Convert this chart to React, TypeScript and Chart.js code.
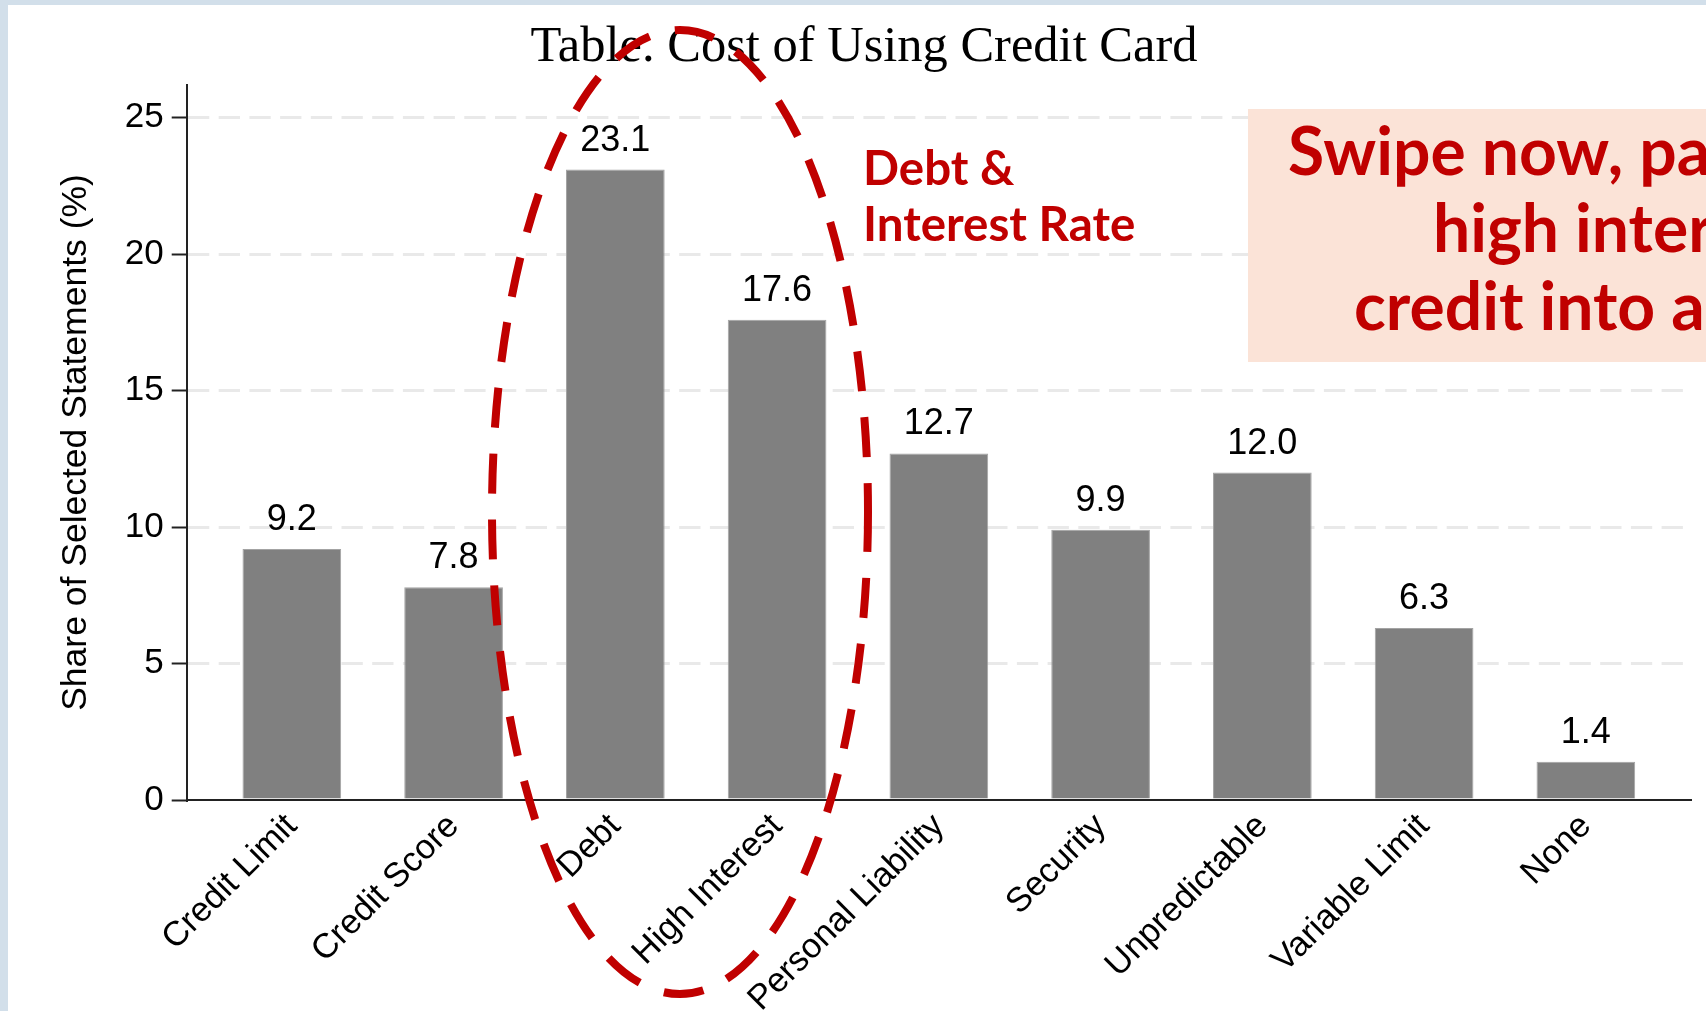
import React, { useEffect, useRef } from 'react';
import { Chart, registerables } from 'chart.js';

Chart.register(...registerables);

// ---- data ----
const categories = [
  'Credit Limit',
  'Credit Score',
  'Debt',
  'High Interest',
  'Personal Liability',
  'Security',
  'Unpredictable',
  'Variable Limit',
  'None',
];
const shares = [9.2, 7.8, 23.1, 17.6, 12.7, 9.9, 12.0, 6.3, 1.4];
const yTicks = [0, 5, 10, 15, 20, 25];
const titleText = 'Table. Cost of Using Credit Card';
const yAxisTitle = 'Share of Selected Statements (%)';
const calloutLines = ['Debt &', 'Interest Rate'];
const boxLines = ['Swipe now, pa', 'high inter', 'credit into a'];

const RED = '#c00000';
const W = 1698;
const H = 1006;

export default function App() {
  const ref = useRef<HTMLCanvasElement>(null);

  useEffect(() => {
    const canvas = ref.current;
    if (!canvas) return;
    Chart.defaults.font.family = "'Liberation Sans', Arial, sans-serif";

    const valueLabels = {
      id: 'valueLabels',
      afterDatasetsDraw(chart: any) {
        const ctx = chart.ctx;
        const meta = chart.getDatasetMeta(0);
        ctx.save();
        ctx.font = "36px 'Liberation Sans'";
        ctx.fillStyle = '#000';
        ctx.textAlign = 'center';
        ctx.textBaseline = 'alphabetic';
        meta.data.forEach((el: any, i: number) => {
          ctx.fillText(shares[i].toFixed(1), el.x, el.y - 19);
        });
        ctx.restore();
      },
    };

    const overlay = {
      id: 'overlay',
      afterDraw(chart: any) {
        const ctx = chart.ctx;
        ctx.save();
        // slide title
        ctx.font = "50.5px 'Liberation Serif'";
        ctx.fillStyle = '#000';
        ctx.textAlign = 'center';
        ctx.textBaseline = 'alphabetic';
        ctx.fillText(titleText, 856, 56);

        // pink callout box
        ctx.fillStyle = '#fbe3d7';
        ctx.fillRect(1240, 104, W - 1240, 253);
        ctx.fillStyle = RED;
        ctx.textAlign = 'left';
        ctx.font = "bold 66px Lato";
        ctx.fillText(boxLines[0], 1280, 170);
        ctx.fillText(boxLines[1], 1425, 247);
        ctx.fillText(boxLines[2], 1346, 325);

        // Debt & Interest Rate callout
        ctx.font = "bold 47.5px Lato";
        ctx.fillText(calloutLines[0], 855, 180);
        ctx.fillText(calloutLines[1], 855, 236);

        // dashed ellipse
        ctx.strokeStyle = RED;
        ctx.lineWidth = 8;
        ctx.setLineDash([40, 26]);
        ctx.beginPath();
        ctx.ellipse(672, 507, 188, 482, 0, 0, Math.PI * 2);
        ctx.stroke();
        ctx.restore();
      },
    };

    const chart = new Chart(canvas, {
      type: 'bar',
      data: {
        datasets: [
          {
            data: shares.map((v, i) => ({ x: i, y: v })),
            backgroundColor: '#808080',
            borderColor: '#a3a3a3',
            borderWidth: 1,
            barPercentage: 0.61,
            categoryPercentage: 1,
          },
        ],
      },
      options: {
        responsive: false,
        animation: false,
        layout: { padding: { top: 80, right: 15, left: 0, bottom: 0 } },
        plugins: {
          legend: { display: false },
          tooltip: { enabled: false },
          title: { display: false },
        },
        scales: {
          x: {
            type: 'linear',
            min: -0.65,
            max: 8.65,
            offset: false,
            grid: { display: false, drawTicks: false, offset: false },
            border: { display: true, color: '#222', width: 2 },
            afterBuildTicks: (s: any) => {
              s.ticks = categories.map((_, i) => ({ value: i }));
            },
            afterFit: (s: any) => {
              s.height = 211;
            },
            ticks: {
              autoSkip: false,
              maxRotation: 45,
              minRotation: 45,
              padding: 6,
              color: '#000',
              font: { size: 34.5 },
              callback: (v: any) => categories[v as number] ?? '',
            },
          },
          y: {
            min: 0,
            max: 26.2,
            afterBuildTicks: (s: any) => {
              s.ticks = yTicks.map((v) => ({ value: v }));
            },
            afterFit: (s: any) => {
              s.width = 178.7;
            },
            grid: {
              color: (c: any) => (c.tick && c.tick.value === 0 ? 'rgba(0,0,0,0)' : '#e9e9e9'),
              lineWidth: 3,
              tickColor: '#222',
              tickWidth: 2,
              tickLength: 15,
              tickBorderDash: [],
            },
            border: { display: true, color: '#222', width: 2, dash: [21.3, 9.4] },
            ticks: { color: '#000', font: { size: 35 }, padding: 8 },
            title: {
              display: true,
              text: yAxisTitle,
              color: '#000',
              font: { size: 35.5 },
              padding: { top: 47, bottom: 0 },
            },
          },
        },
      } as any,
      plugins: [valueLabels, overlay],
    });
    return () => chart.destroy();
  }, []);

  return (
    <div style={{ position: 'fixed', left: 0, top: 0, width: 1706, height: 1011, background: '#d2dfea', overflow: 'hidden' }}>
      <div style={{ position: 'absolute', left: 8, top: 5, width: W, height: H, background: '#fff' }}>
        <canvas ref={ref} width={W} height={H} style={{ display: 'block', width: W, height: H }} />
      </div>
    </div>
  );
}
